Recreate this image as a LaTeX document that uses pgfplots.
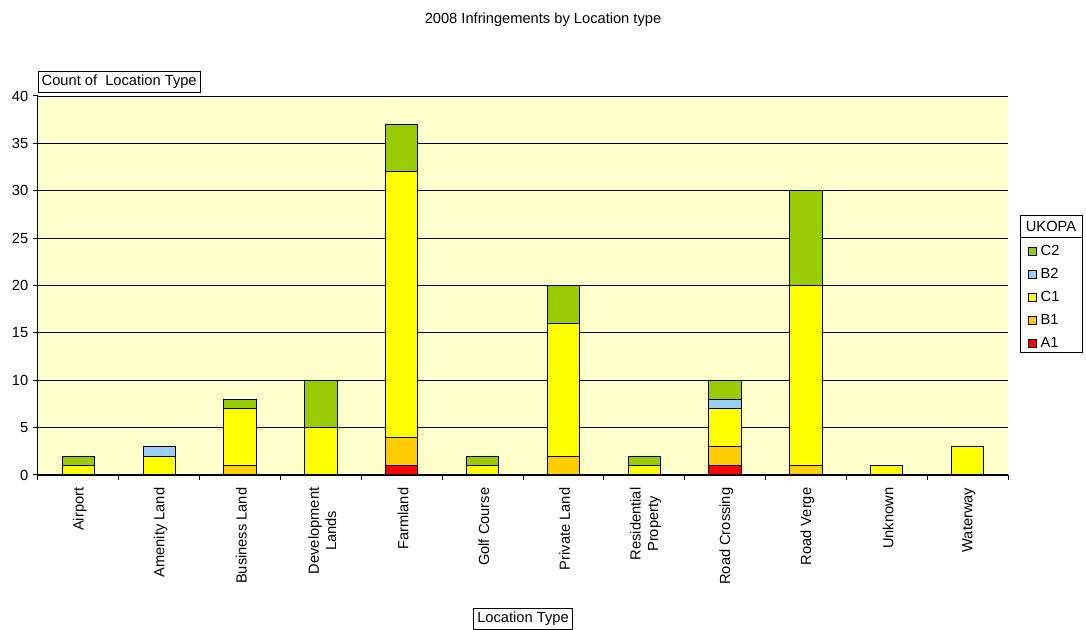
\documentclass[border=0pt]{standalone}
\usepackage{fontspec}
\setmainfont{Liberation Sans}
\usepackage{pgfplots}
\pgfplotsset{compat=1.18}
\definecolor{cA}{HTML}{FF0000}
\definecolor{cB}{HTML}{FFCC00}
\definecolor{cC}{HTML}{FFFF00}
\definecolor{cBB}{HTML}{99CCFF}
\definecolor{cCC}{HTML}{99CC00}
\definecolor{bg}{HTML}{FFFFCC}
\begin{document}
\begin{tikzpicture}
\begin{axis}[
  scale only axis,
  width=727.5pt, height=284.25pt,
  ybar stacked,
  bar width=0.4,
  xmin=-0.5, xmax=11.5,
  ymin=0, ymax=40,
  ytick={0,5,...,40},
  xtick={-0.5,0.5,...,11.5},
  xticklabels={},
  extra x ticks={0,1,2,3,4,5,6,7,8,9,10,11},
  extra x tick labels={Airport,Amenity Land,Business Land,{Development\\Lands},Farmland,Golf Course,Private Land,{Residential\\Property},Road Crossing,Road Verge,Unknown,Waterway},
  extra x tick style={major tick length=0pt, grid=none,
    xticklabel style={rotate=90, anchor=east, align=center, xshift=-6pt, yshift=-1pt}},
  tick align=outside,
  major tick length=3.75pt,
  axis lines*=left,
  axis line style={line width=0.75pt},
  ymajorgrids,
  grid style={black, line width=0.6pt},
  axis background/.style={fill=bg},
  /pgf/number format/assume math mode=true,
  every tick label/.append style={font=\fontsize{11}{13}\selectfont},
  tick style={black, line width=0.75pt},
  legend image code/.code={\draw[#1, draw=black, line width=0.6pt] (0pt,-3pt) rectangle (6pt,3pt); \path[draw=none,fill=none] (0pt,0pt) -- (7.5pt,0pt);},
  reverse legend,
  legend cell align=left,
  legend style={name=leg, at={(1,0.628)}, anchor=north west, xshift=15pt, yshift=-2.25pt,
    draw=none, fill=none, font=\fontsize{11}{13}\selectfont,
    row sep=4.25pt, inner xsep=0pt, inner ysep=2pt,
    nodes={text height=8pt, text depth=2pt, inner sep=1.5pt}},
]
\addplot[fill=cA, draw=black, line width=0.75pt] coordinates {(0,0) (1,0) (2,0) (3,0) (4,1) (5,0) (6,0) (7,0) (8,1) (9,0) (10,0) (11,0)};
\addplot[fill=cB, draw=black, line width=0.75pt] coordinates {(0,0) (1,0) (2,1) (3,0) (4,3) (5,0) (6,2) (7,0) (8,2) (9,1) (10,0) (11,0)};
\addplot[fill=cC, draw=black, line width=0.75pt] coordinates {(0,1) (1,2) (2,6) (3,5) (4,28) (5,1) (6,14) (7,1) (8,4) (9,19) (10,1) (11,3)};
\addplot[fill=cBB, draw=black, line width=0.75pt] coordinates {(0,0) (1,1) (2,0) (3,0) (4,0) (5,0) (6,0) (7,0) (8,1) (9,0) (10,0) (11,0)};
\addplot[fill=cCC, draw=black, line width=0.75pt] coordinates {(0,1) (1,0) (2,1) (3,5) (4,5) (5,1) (6,4) (7,1) (8,2) (9,10) (10,0) (11,0)};
\legend{A1,B1,C1,B2,C2}
\end{axis}
% legend frame and header
\draw[line width=0.6pt] ([xshift=9pt,yshift=-89.25pt]current axis.north east) rectangle ([xshift=55.5pt,yshift=-192pt]current axis.north east);
\draw[line width=0.6pt] ([xshift=9pt,yshift=-105.75pt]current axis.north east) -- ([xshift=55.5pt,yshift=-105.75pt]current axis.north east);
\node[font=\fontsize{11}{13}\selectfont] at ([xshift=32.25pt,yshift=-97.5pt]current axis.north east) {UKOPA};
\node[draw=black, line width=0.6pt, anchor=south west, inner xsep=2.5pt, inner ysep=0pt, minimum height=15.75pt, font=\fontsize{11}{13}\selectfont] at ([yshift=2.25pt]current axis.north west) {Count of\ \ Location Type};
\node[font=\fontsize{11}{13}\selectfont] at ([xshift=378.75pt,yshift=57pt]current axis.north west) {2008 Infringements by Location type};
\node[draw=black, line width=0.6pt, inner xsep=3pt, inner ysep=0pt, minimum height=15.75pt, font=\fontsize{11}{13}\selectfont] at ([xshift=363.75pt,yshift=-107.6pt]current axis.south west) {Location Type};
\pgfresetboundingbox
\path[use as bounding box] ([xshift=-28.5pt,yshift=-116.25pt]current axis.south west) rectangle ([xshift=58.5pt,yshift=72pt]current axis.north east);
\end{tikzpicture}
\end{document}
